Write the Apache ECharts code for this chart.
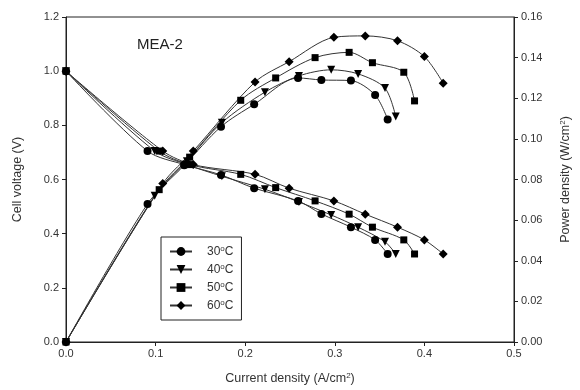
<!DOCTYPE html>
<html>
<head>
<meta charset="utf-8">
<script src="https://cdn.jsdelivr.net/npm/echarts@6/dist/echarts.min.js"></script>
<style>html,body{margin:0;padding:0;background:#fff}#c{width:580px;height:390px}</style>
</head>
<body>
<div id="c"></div>
<script>
const seriesNames = ['30°C', '40°C', '50°C', '60°C'];

const current30 = [0, 0.091, 0.132, 0.173, 0.210, 0.259, 0.285, 0.318, 0.345, 0.359];
const voltage30 = [1.0, 0.705, 0.655, 0.617, 0.568, 0.521, 0.473, 0.424, 0.377, 0.325];
const power30   = [0, 0.068, 0.087, 0.106, 0.117, 0.130, 0.129, 0.1287, 0.1216, 0.1096];

const current40 = [0, 0.099, 0.135, 0.174, 0.222, 0.260, 0.296, 0.326, 0.356, 0.368];
const voltage40 = [1.0, 0.705, 0.655, 0.612, 0.564, 0.517, 0.469, 0.424, 0.370, 0.325];
const power40   = [0, 0.072, 0.089, 0.108, 0.123, 0.131, 0.134, 0.132, 0.125, 0.111];

const current50 = [0, 0.104, 0.138, 0.195, 0.234, 0.278, 0.316, 0.342, 0.377, 0.389];
const voltage50 = [1.0, 0.705, 0.655, 0.619, 0.570, 0.521, 0.472, 0.424, 0.377, 0.325];
const power50   = [0, 0.075, 0.091, 0.119, 0.130, 0.140, 0.1426, 0.1375, 0.1328, 0.1187];

const current60 = [0, 0.108, 0.142, 0.211, 0.249, 0.299, 0.334, 0.370, 0.400, 0.421];
const voltage60 = [1.0, 0.705, 0.655, 0.619, 0.568, 0.521, 0.472, 0.424, 0.377, 0.325];
const power60   = [0, 0.078, 0.094, 0.128, 0.138, 0.150, 0.1507, 0.1483, 0.1405, 0.1274];

const currents = [current30, current40, current50, current60];
const voltages = [voltage30, voltage40, voltage50, voltage60];
const powers = [power30, power40, power50, power60];

const symbols = ['circle', 'triangle', 'rect', 'diamond'];
const symbolSizes = [8, 8, 7, 9];
const symbolRotates = [0, 180, 0, 0];

const FONT = 'Liberation Sans, Arial, sans-serif';
const DARK = '#222';

const series = [];
seriesNames.forEach((name, i) => {
  const common = {
    name: name,
    type: 'line',
    smooth: 0.3,
    symbol: symbols[i],
    symbolSize: symbolSizes[i],
    symbolRotate: symbolRotates[i],
    showAllSymbol: true,
    lineStyle: { color: '#333', width: 1 },
    itemStyle: { color: '#000', borderWidth: 0 },
    emphasis: { disabled: true },
    animation: false
  };
  series.push(Object.assign({}, common, {
    yAxisIndex: 0,
    data: currents[i].map((x, k) => [x, voltages[i][k]])
  }));
  series.push(Object.assign({}, common, {
    yAxisIndex: 1,
    data: currents[i].map((x, k) => [x, powers[i][k]])
  }));
});

const chart = echarts.init(document.getElementById('c'), null, { renderer: 'canvas' });
const axisCommon = {
  axisLine: { show: true, lineStyle: { color: DARK, width: 1 } },
  axisTick: { show: true, inside: false, length: 4, lineStyle: { color: DARK } },
  splitLine: { show: false },
  axisLabel: { color: '#333', fontFamily: FONT, fontSize: 11 },
  nameTextStyle: { color: '#333', fontFamily: FONT, fontSize: 12.5,
    rich: { sup: { fontSize: 8, lineHeight: 8, verticalAlign: 'top', fontFamily: FONT, color: '#333' } } }
};

chart.setOption({
  animation: false,
  textStyle: { fontFamily: FONT },
  grid: { left: 66, right: 63, top: 17, bottom: 48, show: true, borderColor: DARK, borderWidth: 1, backgroundColor: 'transparent' },
  legend: {
    orient: 'vertical',
    left: 161, top: 237,
    padding: [8, 8, 8, 8],
    itemWidth: 22, itemHeight: 11, itemGap: 5,
    borderColor: DARK, borderWidth: 1,
    data: seriesNames,
    formatter: n => n.replace('°', '{s|o}'),
    textStyle: {
      color: '#333', fontFamily: FONT, fontSize: 12, lineHeight: 13, padding: [0, 0, 0, 10],
      rich: { s: { fontSize: 8, lineHeight: 8, verticalAlign: 'top', fontFamily: FONT, color: '#333' } }
    }
  },
  graphic: [{
    type: 'text', left: 137, top: 37,
    style: { text: 'MEA-2', fontSize: 15, fontFamily: FONT, fill: '#222' }
  }],
  xAxis: Object.assign({}, axisCommon, {
    type: 'value', min: 0, max: 0.5, interval: 0.1,
    axisLabel: Object.assign({}, axisCommon.axisLabel, { formatter: v => v.toFixed(1), margin: 6 }),
    name: 'Current density (A/cm{sup|2})', nameLocation: 'middle', nameGap: 30
  }),
  yAxis: [
    Object.assign({}, axisCommon, {
      type: 'value', min: 0, max: 1.2, interval: 0.2, position: 'left',
      axisLabel: Object.assign({}, axisCommon.axisLabel, { formatter: v => v.toFixed(1), margin: 7 }),
      name: 'Cell voltage (V)', nameLocation: 'middle', nameGap: 42
    }),
    Object.assign({}, axisCommon, {
      type: 'value', min: 0, max: 0.16, interval: 0.02, position: 'right',
      axisLabel: Object.assign({}, axisCommon.axisLabel, { formatter: v => v.toFixed(2), margin: 7 }),
      name: 'Power density (W/cm{sup|2})', nameLocation: 'middle', nameGap: 45
    })
  ],
  series: series
});
</script>
</body>
</html>
